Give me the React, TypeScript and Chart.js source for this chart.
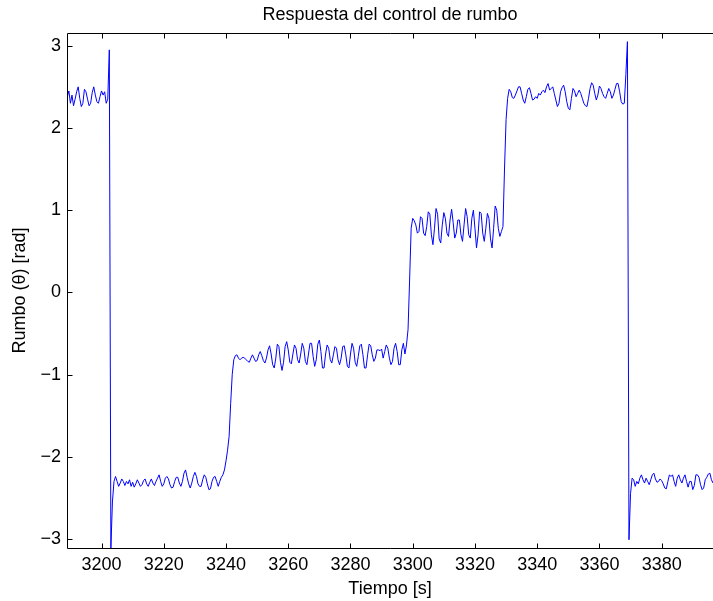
import { useEffect, useRef } from "react";
import { Chart, registerables } from "chart.js";

Chart.register(...registerables);

// Sampling grid of the recorded heading (seconds)
const T_START = 3189.0;
const T_STEP = 0.5;

// Heading values [rad], one segment per plateau
const plateau1 = [
  2.38, 2.45, 2.30, 2.40, 2.27, 2.35, 2.44, 2.50, 2.36, 2.26,
  2.30, 2.47, 2.44, 2.35, 2.27, 2.30, 2.43, 2.50, 2.40, 2.32,
  2.30, 2.38, 2.45, 2.40, 2.44, 2.30, 2.35, 2.95,
];
const plateau2 = [
  -3.11, -2.55, -2.30, -2.24, -2.30, -2.36, -2.32, -2.27, -2.30, -2.35,
  -2.30, -2.33, -2.28, -2.36, -2.31, -2.37, -2.33, -2.28, -2.32, -2.36,
  -2.34, -2.29, -2.27, -2.33, -2.36, -2.31, -2.27, -2.32, -2.35, -2.30,
  -2.26, -2.22, -2.30, -2.36, -2.33, -2.26, -2.24, -2.27, -2.34, -2.38,
  -2.37, -2.30, -2.25, -2.25, -2.32, -2.36, -2.30, -2.20, -2.16, -2.25,
  -2.33, -2.38, -2.32, -2.24, -2.19, -2.24, -2.33, -2.36, -2.36, -2.28,
  -2.22, -2.25, -2.33, -2.40, -2.39, -2.30, -2.25, -2.24, -2.30, -2.36,
  -2.30, -2.25, -2.22, -2.16, -2.05, -1.92,
];
const plateau3 = [
  -1.75, -1.35, -1.00, -0.82, -0.77, -0.76, -0.80, -0.82, -0.80, -0.79,
  -0.80, -0.82, -0.84, -0.85, -0.80, -0.76, -0.80, -0.84, -0.83, -0.76,
  -0.72, -0.77, -0.83, -0.86, -0.80, -0.70, -0.65, -0.75, -0.88, -0.92,
  -0.80, -0.63, -0.66, -0.85, -0.95, -0.85, -0.66, -0.60, -0.70, -0.85,
  -0.87, -0.75, -0.64, -0.68, -0.82, -0.86, -0.75, -0.62, -0.68, -0.84,
  -0.88, -0.75, -0.62, -0.62, -0.78, -0.90, -0.82, -0.63, -0.58, -0.72,
  -0.92, -0.92, -0.75, -0.64, -0.68, -0.82, -0.86, -0.76, -0.66, -0.68,
  -0.82, -0.88, -0.80, -0.66, -0.65, -0.76, -0.90, -0.92, -0.75, -0.62,
  -0.68, -0.85, -0.90, -0.78, -0.65, -0.63, -0.76, -0.92, -0.92, -0.76,
  -0.63, -0.65, -0.76, -0.84, -0.80, -0.70, -0.70, -0.71, -0.69, -0.80,
  -0.72, -0.64, -0.68, -0.80, -0.88, -0.84, -0.68, -0.62, -0.72, -0.88,
  -0.88, -0.70, -0.62, -0.75, -0.64, -0.45,
];
const plateau4 = [
  0.15, 0.78, 0.90, 0.87, 0.82, 0.72, 0.74, 0.92, 0.90, 0.72,
  0.69, 0.80, 0.98, 0.95, 0.70, 0.58, 0.78, 1.02, 0.95, 0.65,
  0.60, 0.82, 0.97, 0.90, 0.72, 0.68, 0.88, 1.01, 0.85, 0.66,
  0.72, 0.88, 0.88, 0.70, 0.62, 0.82, 1.02, 0.92, 0.70, 0.66,
  0.90, 1.00, 0.78, 0.54, 0.70, 0.98, 0.96, 0.72, 0.62, 0.78,
  0.96, 0.90, 0.65, 0.54, 0.78, 1.05, 1.00, 0.78, 0.68, 0.74,
  0.80,
];
const plateau5 = [
  1.50, 2.10, 2.36, 2.47, 2.44, 2.37, 2.36, 2.40, 2.45, 2.50,
  2.50, 2.42, 2.34, 2.30, 2.38, 2.47, 2.49, 2.42, 2.34, 2.35,
  2.38, 2.36, 2.42, 2.40, 2.44, 2.46, 2.43, 2.50, 2.54, 2.46,
  2.48, 2.50, 2.42, 2.34, 2.26, 2.30, 2.44, 2.49, 2.52, 2.44,
  2.32, 2.24, 2.22, 2.36, 2.48, 2.45, 2.38, 2.42, 2.46, 2.42,
  2.36, 2.30, 2.27, 2.26, 2.36, 2.48, 2.55, 2.52, 2.42, 2.34,
  2.40, 2.51, 2.48, 2.42, 2.38, 2.36, 2.42, 2.48, 2.44, 2.36,
  2.40, 2.47, 2.54, 2.54, 2.44, 2.32, 2.29, 2.30, 2.65, 3.05,
];
const plateau6 = [
  -3.01, -2.45, -2.26, -2.28, -2.36, -2.30, -2.33, -2.26, -2.22, -2.28,
  -2.32, -2.26, -2.30, -2.34, -2.28, -2.22, -2.20, -2.27, -2.31, -2.30,
  -2.27, -2.29, -2.33, -2.38, -2.39, -2.30, -2.22, -2.24, -2.22, -2.30,
  -2.36, -2.26, -2.22, -2.28, -2.32, -2.26, -2.22, -2.30, -2.37, -2.30,
  -2.30, -2.40, -2.35, -2.22, -2.22, -2.25, -2.34, -2.40, -2.38, -2.28,
  -2.25, -2.21, -2.20, -2.28, -2.32,
];

const heading = [...plateau1, ...plateau2, ...plateau3, ...plateau4, ...plateau5, ...plateau6];

const xTickValues = [3200, 3220, 3240, 3260, 3280, 3300, 3320, 3340, 3360, 3380];
const yTickValues = [-3, -2, -1, 0, 1, 2, 3];

const X_MIN = 3188.9;
const X_MAX = 3396.5;
const Y_MIN = -3.11;
const Y_MAX = 3.155;

const TITLE = "Respuesta del control de rumbo";
const X_LABEL = "Tiempo [s]";
const Y_LABEL = "Rumbo (\u03b8) [rad]";

const FONT = "Liberation Sans, Arial, Helvetica, sans-serif";
const FONT_SIZE = 18;

const fmt = (v: number) => (v < 0 ? "\u2212" + String(Math.abs(v)) : String(v));

const framePlugin = {
  id: "matlabFrame",
  afterDraw(chart: any) {
    const { ctx, chartArea } = chart;
    const { left, right, top, bottom } = chartArea;
    const xs = chart.scales.x;
    const ys = chart.scales.y;
    ctx.save();
    ctx.strokeStyle = "#000";
    ctx.lineWidth = 1;
    ctx.beginPath();
    const L = Math.round(left) + 0.5;
    const T = Math.round(top) + 0.5;
    const B = Math.round(bottom) + 0.5;
    ctx.moveTo(right + 1, T);
    ctx.lineTo(L, T);
    ctx.lineTo(L, B);
    ctx.lineTo(right + 1, B);
    const tl = 5;
    xs.ticks.forEach((t: any) => {
      const px = Math.round(xs.getPixelForValue(t.value)) + 0.5;
      ctx.moveTo(px, B);
      ctx.lineTo(px, B - tl);
      ctx.moveTo(px, T);
      ctx.lineTo(px, T + tl);
    });
    ys.ticks.forEach((t: any) => {
      const py = Math.round(ys.getPixelForValue(t.value)) + 0.5;
      ctx.moveTo(L, py);
      ctx.lineTo(L + tl, py);
    });
    ctx.stroke();

    ctx.fillStyle = "#000";
    ctx.font = `${FONT_SIZE}px ${FONT}`;
    const cx = (left + right) / 2;
    ctx.textAlign = "center";
    ctx.textBaseline = "alphabetic";
    ctx.fillText(TITLE, cx, 20);
    ctx.textBaseline = "middle";
    ctx.fillText(X_LABEL, cx, 589);
    ctx.translate(20, (top + bottom) / 2);
    ctx.rotate(-Math.PI / 2);
    ctx.fillText(Y_LABEL, 0, 0);
    ctx.restore();
  },
};

export default function App() {
  const canvasRef = useRef<HTMLCanvasElement | null>(null);

  useEffect(() => {
    const canvas = canvasRef.current;
    if (!canvas) return;
    const points = heading.map((v, i) => ({ x: T_START + i * T_STEP, y: v }));
    const chart = new Chart(canvas, {
      type: "line",
      data: {
        datasets: [
          {
            data: points,
            borderColor: "#0000ff",
            borderWidth: 1,
            pointRadius: 0,
            tension: 0,
            fill: false,
          },
        ],
      },
      options: {
        animation: false,
        responsive: false,
        devicePixelRatio: 1,
        parsing: false as any,
        layout: { padding: { left: 0, top: 33, right: 0, bottom: 0 } },
        plugins: {
          legend: { display: false },
          title: { display: false },
          tooltip: { enabled: false },
        },
        scales: {
          x: {
            type: "linear",
            min: X_MIN,
            max: X_MAX,
            grid: { display: false, drawTicks: false },
            border: { display: false },
            afterBuildTicks: (s: any) => {
              s.ticks = xTickValues.map((v) => ({ value: v }));
            },
            afterFit: (s: any) => {
              s.height = 53;
            },
            ticks: {
              autoSkip: false,
              maxRotation: 0,
              padding: 6,
              color: "#000",
              font: { family: FONT, size: FONT_SIZE },
              callback: (v: any) => fmt(Number(v)),
            },
          },
          y: {
            type: "linear",
            min: Y_MIN,
            max: Y_MAX,
            grid: { display: false, drawTicks: false },
            border: { display: false },
            afterBuildTicks: (s: any) => {
              s.ticks = yTickValues.map((v) => ({ value: v }));
            },
            afterFit: (s: any) => {
              s.width = 67;
            },
            ticks: {
              autoSkip: false,
              padding: 6,
              color: "#000",
              font: { family: FONT, size: FONT_SIZE },
              callback: (v: any) => fmt(Number(v)),
            },
          },
        },
      },
      plugins: [framePlugin],
    });
    return () => chart.destroy();
  }, []);

  return (
    <div style={{ position: "absolute", left: 0, top: 0, width: 713, height: 601, background: "#fff" }}>
      <canvas ref={canvasRef} width={713} height={601} style={{ display: "block" }} />
    </div>
  );
}
